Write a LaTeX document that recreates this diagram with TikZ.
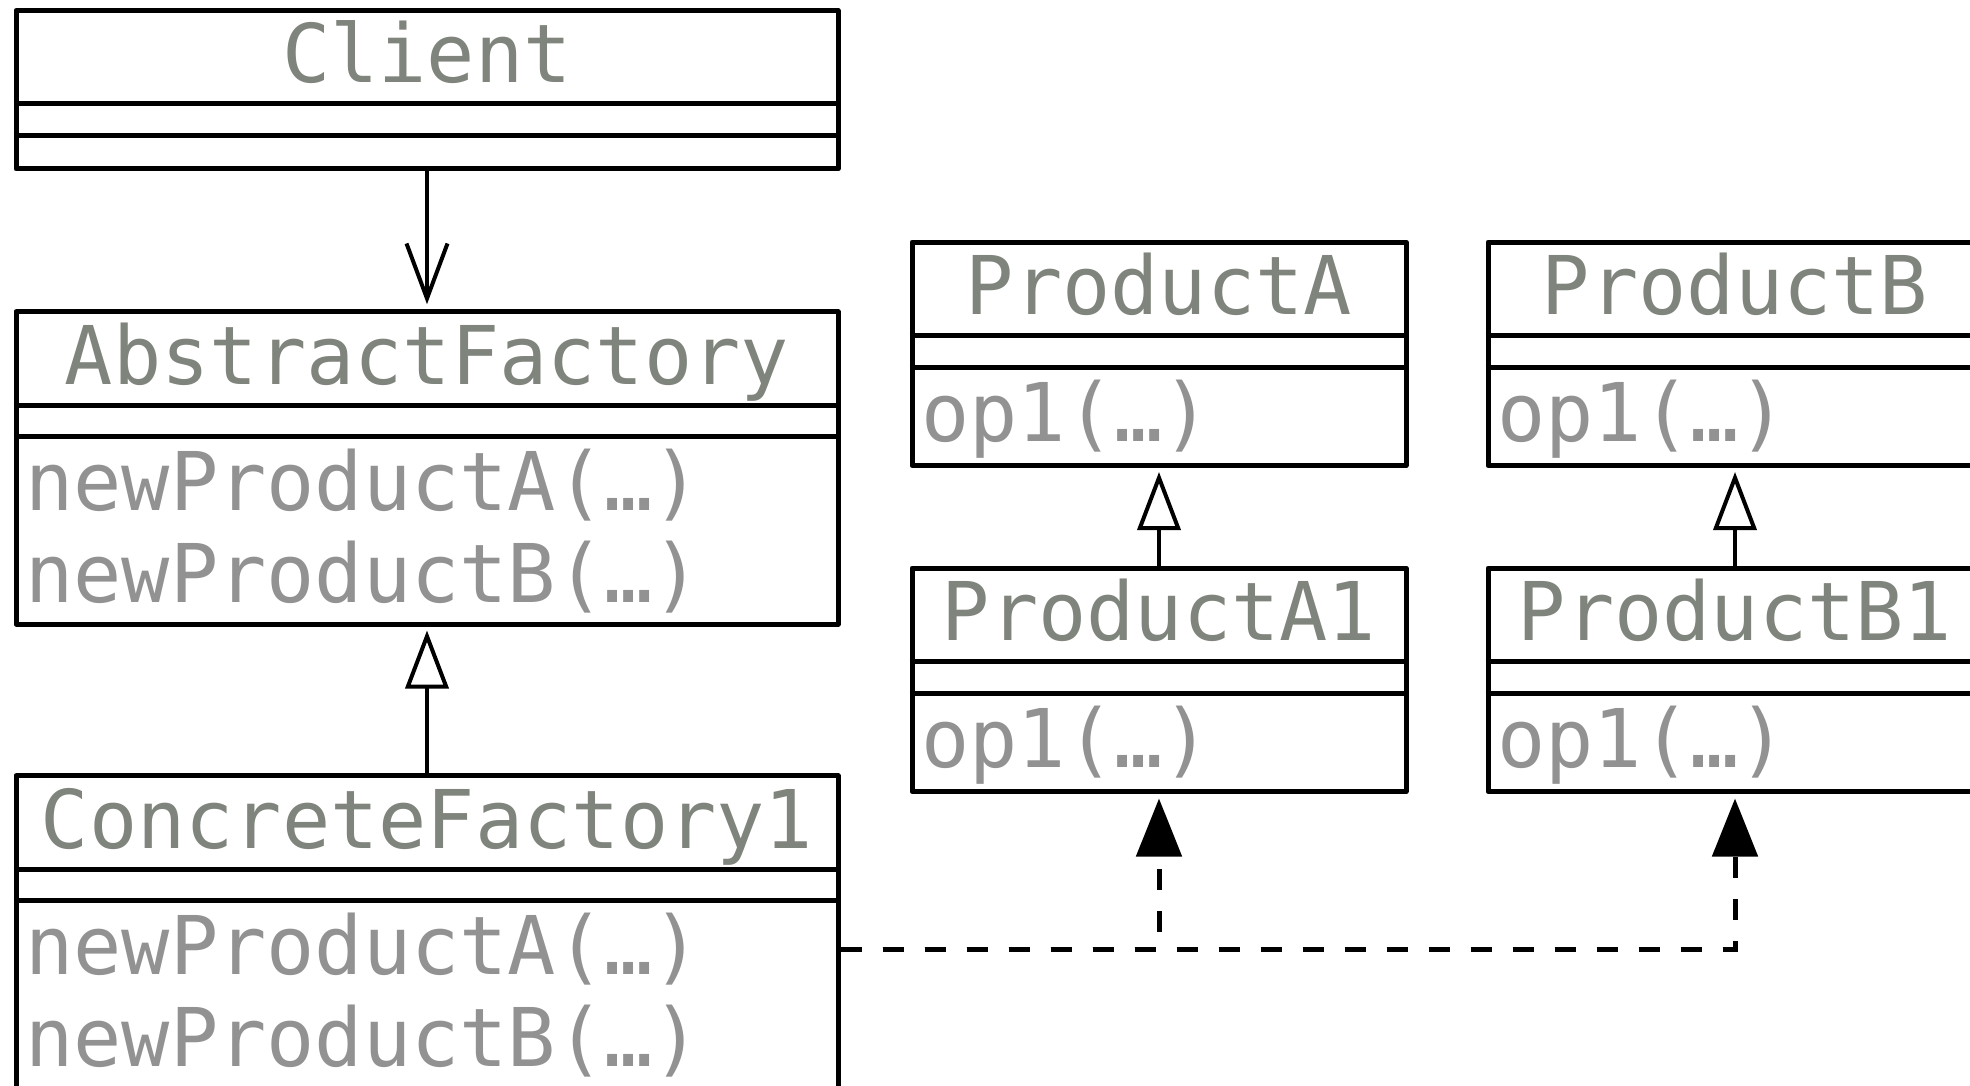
\documentclass[tikz,border=0pt]{standalone}
\usepackage{fontspec}
\setmonofont[FakeStretch=0.99]{DejaVu Sans Mono}
\usetikzlibrary{arrows.meta,calc}
\definecolor{titlegray}{RGB}{127,132,124}
\definecolor{opgray}{RGB}{146,146,146}
\newcommand\umlfont{\ttfamily\fontsize{81pt}{92pt}\selectfont}
\tikzset{
  classbox/.style={draw=black, line width=5pt, line join=round, inner sep=0pt, rectangle},
  classdiv/.style={draw=black, line width=5pt},
  classname/.style={font=\umlfont, text=titlegray, inner sep=0pt, anchor=base},
  opname/.style={font=\umlfont, text=opgray, inner sep=0pt, anchor=base west},
  assoc/.style={line width=4pt, -{Straight Barb[length=55pt,width=41pt]}, shorten >=5pt},
  inherit/.style={line width=4pt, -{Triangle[open,length=58pt,width=43pt]}, shorten >=4pt},
  depend/.style={line width=5pt, dash pattern=on 21pt off 21pt, -{Triangle[length=58pt,width=45pt]}, shorten >=4.5pt},
}
\newcommand\umlparts[2]{%
  \draw[classdiv] ([yshift=-96pt]#1.north west) -- ([yshift=-96pt]#1.north east);
  \draw[classdiv] ([yshift=-127.5pt]#1.north west) -- ([yshift=-127.5pt]#1.north east);
  \node[classname] (#1-title) at ([yshift=-75pt]#1.north) {#2};
}
\newcommand\umlop[3]{%
  \node[opname] (#1-op#2) at ([xshift=11.5pt,yshift={-201.5pt-92pt*(#2-1)}]#1.north west) {#3};
}
\begin{document}
\begin{tikzpicture}[x=1pt,y=-1pt]
\useasboundingbox (0,0) rectangle (1970,1086);
\clip (0,0) rectangle (1970,1086);

% class boxes
\node[classbox, minimum width=822pt, minimum height=158.5pt] (client) at (427,89.75) {};
\node[classbox, minimum width=822pt, minimum height=312.3pt] (af) at (427,467.85) {};
\node[classbox, minimum width=822pt, minimum height=312.3pt] (cf1) at (427,931.85) {};
\node[classbox, minimum width=494pt, minimum height=223.5pt] (pa) at (1159,353.75) {};
\node[classbox, minimum width=494pt, minimum height=223.5pt] (pa1) at (1159,679.75) {};
\node[classbox, minimum width=494pt, minimum height=223.5pt] (pb) at (1735,353.75) {};
\node[classbox, minimum width=494pt, minimum height=223.5pt] (pb1) at (1735,679.75) {};

\umlparts{client}{Client}
\umlparts{af}{AbstractFactory}
\umlparts{cf1}{ConcreteFactory1}
\umlparts{pa}{ProductA}
\umlparts{pa1}{ProductA1}
\umlparts{pb}{ProductB}
\umlparts{pb1}{ProductB1}

\umlop{af}{1}{newProductA(…)}
\umlop{af}{2}{newProductB(…)}
\umlop{cf1}{1}{newProductA(…)}
\umlop{cf1}{2}{newProductB(…)}
\umlop{pa}{1}{op1(…)}
\umlop{pa1}{1}{op1(…)}
\umlop{pb}{1}{op1(…)}
\umlop{pb1}{1}{op1(…)}

% connectors
\draw[assoc] (client.south) -- (af.north);
\draw[inherit] (cf1.north) -- (af.south);
\draw[inherit] (pa1.north) -- (pa.south);
\draw[inherit] (pb1.north) -- (pb.south);
\coordinate (cf1out) at ([yshift=-176.3pt]cf1.north east);
\draw[depend] (cf1out) -| (pa1.south);
\draw[depend] (cf1out) -| (pb1.south);
\end{tikzpicture}
\end{document}
